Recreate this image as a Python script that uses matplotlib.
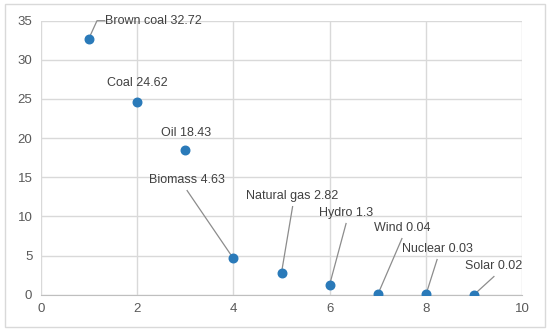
import matplotlib.pyplot as plt
from matplotlib.patches import Rectangle

# data
sources = ['Brown coal', 'Coal', 'Oil', 'Biomass', 'Natural gas', 'Hydro', 'Wind', 'Nuclear', 'Solar']
x_vals = [1, 2, 3, 4, 5, 6, 7, 8, 9]
y_vals = [32.72, 24.62, 18.43, 4.63, 2.82, 1.3, 0.04, 0.03, 0.02]
value_text = ['32.72', '24.62', '18.43', '4.63', '2.82', '1.3', '0.04', '0.03', '0.02']

# label placement (data coords of text centre) and whether a leader line is drawn
label_pos = [(2.34, 34.96), (2.0, 27.04), (3.02, 20.65), (3.04, 14.65), (5.23, 12.6),
             (6.34, 10.44), (7.50, 8.52), (8.23, 5.84), (9.41, 3.67)]
has_leader = [True, False, False, True, True, True, True, True, True]

plt.rcParams['font.family'] = ['Liberation Sans', 'DejaVu Sans']

fig = plt.figure(figsize=(5.5, 3.34), dpi=100)
fig.patches.append(Rectangle((5 / 550, 1 - 327 / 334), 540 / 550, 323 / 334,
                             transform=fig.transFigure, fill=False,
                             edgecolor='#d9d9d9', linewidth=1))
ax = fig.add_axes([0.074, 0.1177, 0.8757, 0.8203])

ax.set_xlim(0, 10)
ax.set_ylim(0, 35)
ax.set_xticks(range(0, 11, 2))
ax.set_yticks(range(0, 36, 5))
ax.grid(True, color='#d9d9d9', linewidth=1)
ax.set_axisbelow(True)
for side in ['top', 'right', 'left']:
    ax.spines[side].set_visible(False)
ax.spines['bottom'].set_color('#bfbfbf')
ax.tick_params(length=0, labelsize=9.5, labelcolor='#595959', pad=6)

ax.scatter(x_vals, y_vals, s=38, color='#2a7ab9', zorder=3)

for i, name in enumerate(sources):
    tx, ty = label_pos[i]
    label = name + ' ' + value_text[i]
    ax.text(tx, ty, label, ha='center', va='center', fontsize=9, color='#404040')
    if has_leader[i]:
        if i == 0:
            ax.plot([x_vals[i], 1.169, 1.33], [y_vals[i], 35.0, 35.0],
                    color='#8c8c8c', linewidth=0.9, zorder=2, clip_on=False)
        else:
            ax.plot([tx, x_vals[i]], [ty - 1.35, y_vals[i]],
                    color='#8c8c8c', linewidth=0.9, zorder=2)

fig.savefig('out.png', dpi=100)
